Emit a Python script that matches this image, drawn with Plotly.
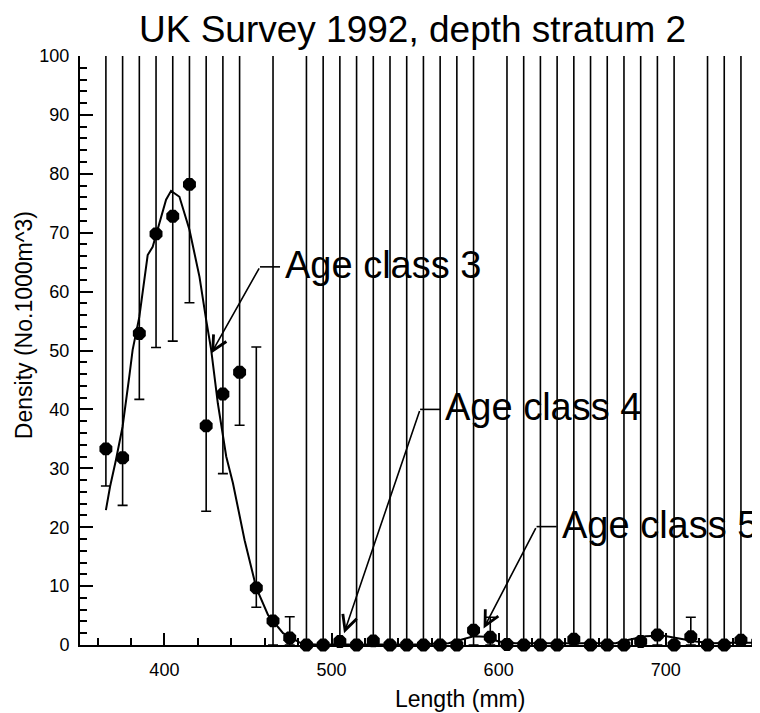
import plotly.graph_objects as go

# length classes (mm) and density estimates
lengths = [365, 375, 385, 395, 405, 415, 425, 435, 445, 455,
           465, 475, 485, 495, 505, 515, 525, 535, 545, 555,
           565, 575, 585, 595, 605, 615, 625, 635, 645, 655,
           665, 675, 685, 695, 705, 715, 725, 735, 745, 755]
density = [33.3, 31.8, 52.9, 69.8, 72.8, 78.2, 37.2, 42.6, 46.3, 9.7,
           4.1, 1.2, 0.0, 0.0, 0.6, 0.0, 0.7, 0.0, 0.0, 0.0,
           0.0, 0.0, 2.5, 1.3, 0.1, 0.0, 0.0, 0.0, 1.0, 0.0,
           0.0, 0.0, 0.6, 1.7, 0.0, 1.4, 0.0, 0.0, 0.8, 0.5]
# confidence limits (upper limits above 100 run off the chart)
lower = [27.0, 23.7, 41.7, 50.5, 51.6, 58.1, 22.7, 29.1, 37.3, 6.4,
         0.0, 0.0, 0.0, 0.0, 0.0, 0.0, 0.0, 0.0, 0.0, 0.0,
         0.0, 0.0, 0.0, 0.0, 0.0, 0.0, 0.0, 0.0, 0.0, 0.0,
         0.0, 0.0, 0.0, 0.0, 0.0, 0.0, 0.0, 0.0, 0.0, 0.0]
upper = [120, 120, 120, 120, 120, 120, 120, 120, 120, 50.6,
         120, 4.8, 120, 120, 120, 120, 120, 120, 120, 120,
         120, 120, 120, 4.7, 120, 120, 120, 120, 120, 120,
         120, 120, 120, 120, 120, 4.7, 120, 120, 120, 120]

# fitted mixture curve
fit_x = [365, 367.5, 371, 375, 379, 381, 385, 388, 390, 393, 396, 401, 404,
         409, 415, 421, 425, 428, 432, 437, 441, 448, 455, 462, 471, 481,
         490, 500, 520, 550, 570, 578, 585, 592, 600, 610, 630, 650, 670,
         678, 688, 698, 708, 718, 728, 740, 756]
fit_y = [22.9, 26.9, 31.4, 37.1, 45.6, 50.1, 55.7, 62.0, 66.2, 67.6, 70.5, 75.6, 77.1,
         76.1, 70.5, 62.5, 55.2, 50.1, 41.0, 32.0, 27.5, 17.8, 9.7, 5.1, 2.0, 0.4,
         0.1, 0.1, 0.2, 0.1, 0.3, 0.9, 1.5, 1.4, 0.6, 0.3, 0.3, 0.4, 0.3,
         0.9, 1.5, 1.6, 1.1, 0.6, 0.3, 0.4, 0.4]

# age class labels: text, arrow tip, elbow
age_labels = ['Age class 3', 'Age class 4', 'Age class 5']
tip_x = [428, 507.5, 591]
tip_y = [49.5, 2.0, 2.8]
elbow_x = [457.2, 553, 622.7]
elbow_y = [64.2, 40.0, 20.1]

FONT = 'Liberation Sans'

fig = go.Figure()

# error bars (clipped at the top of the axes)
fig.add_trace(go.Scatter(
    x=lengths, y=density, mode='markers',
    marker=dict(size=1, color='rgba(0,0,0,0)'),
    error_y=dict(type='data', symmetric=False,
                 array=[u - d for u, d in zip(upper, density)],
                 arrayminus=[d - l for d, l in zip(density, lower)],
                 color='black', thickness=1.6, width=5),
    cliponaxis=True, showlegend=False, hoverinfo='skip'))

# fitted curve
fig.add_trace(go.Scatter(
    x=fit_x, y=fit_y, mode='lines',
    line=dict(color='black', width=2),
    showlegend=False))

# observed points
fig.add_trace(go.Scatter(
    x=lengths, y=density, mode='markers',
    marker=dict(size=14, symbol='octagon', color='black'),
    cliponaxis=False, showlegend=False))

annotations = []
for i, label in enumerate(age_labels):
    # horizontal leader from elbow towards the text
    fig.add_trace(go.Scatter(
        x=[elbow_x[i], elbow_x[i] + 12], y=[elbow_y[i], elbow_y[i]],
        mode='lines', line=dict(color='black', width=1.6),
        showlegend=False, hoverinfo='skip'))
    annotations.append(dict(
        x=tip_x[i], y=tip_y[i], ax=elbow_x[i], ay=elbow_y[i],
        xref='x', yref='y', axref='x', ayref='y',
        text='', showarrow=True, arrowhead=5, arrowsize=1.8,
        arrowwidth=1.6, arrowcolor='black'))
    annotations.append(dict(
        x=elbow_x[i] + 14, y=elbow_y[i], xref='x', yref='y',
        text=label, showarrow=False, xanchor='left', yanchor='middle',
        font=dict(family=FONT, size=38, color='black'), yshift=2))

annotations += [
    dict(text='UK Survey 1992, depth stratum 2', x=0.489, y=1.045,
         xref='paper', yref='paper', showarrow=False,
         xanchor='center', yanchor='middle',
         font=dict(family=FONT, size=37, color='black')),
    dict(text='Length (mm)', x=0.559, y=-0.0925,
         xref='paper', yref='paper', showarrow=False,
         xanchor='center', yanchor='middle',
         font=dict(family=FONT, size=23, color='black')),
    dict(text='Density (No.1000m^3)', x=-0.0824, y=0.543,
         xref='paper', yref='paper', showarrow=False, textangle=-90,
         xanchor='center', yanchor='middle',
         font=dict(family=FONT, size=23, color='black')),
]

# the page body adds an 8px offset, so margins are shifted to compensate
fig.update_layout(
    width=760, height=713,
    margin=dict(l=72, r=8, t=48, b=76),
    plot_bgcolor='white', paper_bgcolor='white',
    annotations=annotations,
    xaxis=dict(range=[349.5, 756.4], showgrid=False, zeroline=False,
               showline=True, linecolor='black', linewidth=2,
               ticks='inside', ticklen=12, tickwidth=2, tickcolor='black',
               tick0=0, dtick=100, ticklabelstandoff=7,
               tickfont=dict(family=FONT, size=18, color='black'),
               minor=dict(dtick=20, ticks='inside', ticklen=7,
                          tickwidth=2, tickcolor='black')),
    yaxis=dict(range=[0, 100], showgrid=False, zeroline=False,
               showline=True, linecolor='black', linewidth=2,
               ticks='inside', ticklen=13, tickwidth=2, tickcolor='black',
               tick0=0, dtick=10, ticklabelstandoff=5,
               tickfont=dict(family=FONT, size=18, color='black'),
               minor=dict(dtick=2, ticks='inside', ticklen=7,
                          tickwidth=2, tickcolor='black')),
)

fig.write_html("out.html")
